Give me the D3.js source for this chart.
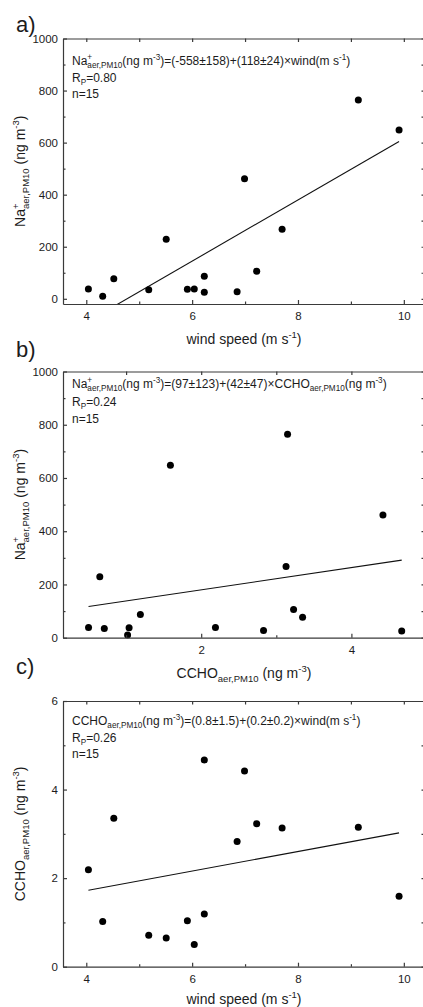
<!DOCTYPE html>
<html><head><meta charset="utf-8">
<script src="https://cdn.jsdelivr.net/npm/d3@7"></script>
<style>
body{margin:0;background:#fff}
svg{display:block}
text{font-family:"Liberation Sans",Arial,sans-serif;fill:#1c1c1c}
</style>
</head><body>
<script>
// ---- data (15 samples) ----
const windSpeed = [4.04,4.31,4.52,5.18,5.51,5.91,6.04,6.23,6.23,6.85,6.99,7.22,7.70,9.14,9.91];
const naAer     = [38,10,77,35,229,37,38,87,25,27,461,106,267,764,648];
const cchoAer   = [2.19,1.02,3.35,0.71,0.65,1.04,0.50,1.19,4.67,2.83,4.42,3.23,3.13,3.15,1.59];

// ---- tick labels ----
const naTicks = [0,200,400,600,800,1000];
const naMinor = [100,300,500,700,900];
const windTicks = [4,6,8,10];
const windMinor = [5,7,9];
const cchoXTicks = [2,4];
const cchoXMinor = [1,3];
const cchoYTicks = [0,2,4,6];
const cchoYMinor = [1,3,5];

// ---- texts ----
const panelLabels = ["a)","b)","c)"];
const rpValues = ["0.80","0.24","0.26"];
const nText = "n=15";
const naLabel = [["Na"],["+","stack","aer,PM10"]];
const cchoLabel = [["CCHO"],["aer,PM10","sub"]];
const eqA = [...naLabel,["(ng m"],["-3","sup"],[")=(-558±158)+(118±24)×wind(m s"],["-1","sup"],[")"]];
const eqB = [...naLabel,["(ng m"],["-3","sup"],[")=(97±123)+(42±47)×CCHO"],["aer,PM10","sub"],["(ng m"],["-3","sup"],[")"]];
const eqC = [...cchoLabel,["(ng m"],["-3","sup"],[")=(0.8±1.5)+(0.2±0.2)×wind(m s"],["-1","sup"],[")"]];
const windTitle = [["wind speed (m s"],["-1","sup"],[")"]];
const naTitle = [...naLabel,[" (ng m"],["-3","sup"],[")"]];
const cchoTitle = [...cchoLabel,[" (ng m"],["-3","sup"],[")"]];

// ---- layout ----
const W = 423, H = 1007, L = 63, R = 425;
const panels = [
  {xv: windSpeed, yv: naAer, xDom:[3.56,10.4], yDom:[-20,1000], top:38.5, bottom:304,
   xt: windTicks, xm: windMinor, yt: naTicks, ym: naMinor, eq: eqA, xTitle: windTitle, yTitle: naTitle,
   labelY:32, xTitleY:344, annoY:[65,82,98]},
  {xv: cchoAer, yv: naAer, xDom:[0.16,4.98], yDom:[0,1000], top:371.5, bottom:637.7,
   xt: cchoXTicks, xm: cchoXMinor, yt: naTicks, ym: naMinor, eq: eqB, xTitle: cchoTitle, yTitle: naTitle,
   labelY:357, xTitleY:678, annoY:[388,406,423]},
  {xv: windSpeed, yv: cchoAer, xDom:[3.56,10.4], yDom:[0,6], top:701, bottom:966.7,
   xt: windTicks, xm: windMinor, yt: cchoYTicks, ym: cchoYMinor, eq: eqC, xTitle: windTitle, yTitle: cchoTitle,
   labelY:674, xTitleY:1004, annoY:[725,742,758]}
];

const svg = d3.select("body").append("svg").attr("width",W).attr("height",H);
svg.append("rect").attr("width",W).attr("height",H).attr("fill","#fff");

function rich(textSel, parts, fs){
  let shift = 0;
  parts.forEach(p => {
    const [t, mode, sub2] = p;
    if (!mode) {
      textSel.append("tspan").attr("dy", -shift).attr("font-size", fs).text(t);
      shift = 0;
    } else if (mode === "sup") {
      const s = -0.42*fs;
      textSel.append("tspan").attr("dy", s - shift).attr("font-size", fs*0.68).text(t);
      shift = s;
    } else if (mode === "sub") {
      const s = 0.26*fs;
      textSel.append("tspan").attr("dy", s - shift).attr("font-size", fs*0.68).text(t);
      shift = s;
    } else if (mode === "stack") {
      const s1 = -0.42*fs;
      const ts = textSel.append("tspan").attr("dy", s1 - shift).attr("font-size", fs*0.68).text(t);
      const w = ts.node().getComputedTextLength();
      const s2 = 0.26*fs;
      textSel.append("tspan").attr("dy", s2 - s1).attr("dx", -w).attr("font-size", fs*0.68).text(sub2);
      shift = s2;
    }
  });
}

function regression(xs, ys){
  const mx = d3.mean(xs), my = d3.mean(ys);
  let sxy = 0, sxx = 0;
  xs.forEach((x,i)=>{ sxy += (x-mx)*(ys[i]-my); sxx += (x-mx)*(x-mx); });
  const b = sxy/sxx;
  return {a: my - b*mx, b};
}

panels.forEach((p, pi) => {
  const x = d3.scaleLinear().domain(p.xDom).range([L, R]);
  const y = d3.scaleLinear().domain(p.yDom).range([p.bottom, p.top]);
  const g = svg.append("g");
  const axisCol = "#3a3a3a";

  const clipId = "clip"+pi;
  svg.append("clipPath").attr("id", clipId).append("rect")
    .attr("x", L).attr("y", p.top).attr("width", R-L).attr("height", p.bottom-p.top);

  // regression line
  const fit = regression(p.xv, p.yv);
  const xr = d3.extent(p.xv);
  g.append("line").attr("clip-path", `url(#${clipId})`)
    .attr("x1", x(xr[0])).attr("y1", y(fit.a + fit.b*xr[0]))
    .attr("x2", x(xr[1])).attr("y2", y(fit.a + fit.b*xr[1]))
    .attr("stroke", "#111").attr("stroke-width", 1.1);

  // points
  g.selectAll("circle").data(p.xv.map((v,i)=>[v, p.yv[i]])).join("circle")
    .attr("cx", d=>x(d[0])).attr("cy", d=>y(d[1])).attr("r", 3.5).attr("fill","#000");

  // axes
  const style = a => { a.selectAll("path,line").attr("stroke", axisCol).attr("stroke-width", 1.2);
                       a.selectAll("text").attr("fill","#1c1c1c").attr("font-size", 11.5)
                        .attr("font-family",'"Liberation Sans",Arial,sans-serif'); };
  const bx = g.append("g").attr("transform",`translate(0,${p.bottom})`)
    .call(d3.axisBottom(x).tickValues(p.xt).tickSizeInner(-4).tickSizeOuter(0).tickPadding(8).tickFormat(d3.format("d")));
  style(bx);
  const bxm = g.append("g").attr("transform",`translate(0,${p.bottom})`)
    .call(d3.axisBottom(x).tickValues(p.xm).tickSizeInner(-2.5).tickSizeOuter(0).tickFormat(""));
  style(bxm); bxm.select(".domain").remove();
  const tx = g.append("g").attr("transform",`translate(0,${p.top})`)
    .call(d3.axisTop(x).tickValues(p.xt.concat(p.xm)).tickSizeInner(-3.5).tickSizeOuter(0).tickFormat(""));
  style(tx);
  const ly = g.append("g").attr("transform",`translate(${L},0)`)
    .call(d3.axisLeft(y).tickValues(p.yt).tickSizeInner(-4).tickSizeOuter(0).tickPadding(5).tickFormat(d3.format("d")));
  style(ly);
  const lym = g.append("g").attr("transform",`translate(${L},0)`)
    .call(d3.axisLeft(y).tickValues(p.ym).tickSizeInner(-2.5).tickSizeOuter(0).tickFormat(""));
  style(lym); lym.select(".domain").remove();
  const ry = g.append("g").attr("transform",`translate(${R},0)`)
    .call(d3.axisRight(y).tickValues(p.yt.concat(p.ym)).tickSizeInner(-3.5).tickSizeOuter(0).tickFormat(""));
  style(ry);

  // panel label
  svg.append("text").attr("x", 16).attr("y", p.labelY).attr("font-size", 22).text(panelLabels[pi]);

  // x title
  const xt = svg.append("text").attr("x", 244).attr("y", p.xTitleY).attr("text-anchor","middle");
  rich(xt, p.xTitle, 14);

  // y title
  const yt = svg.append("text").attr("text-anchor","middle")
    .attr("transform", `translate(25,${(p.top+p.bottom)/2}) rotate(-90)`);
  rich(yt, p.yTitle, 14);

  // annotation
  const a1 = svg.append("text").attr("x", 72).attr("y", p.annoY[0]);
  rich(a1, p.eq, 12);
  const a2 = svg.append("text").attr("x", 72).attr("y", p.annoY[1]);
  rich(a2, [["R"],["P","sub"],["="+rpValues[pi]]], 12);
  svg.append("text").attr("x", 72).attr("y", p.annoY[2]).attr("font-size", 12).text(nText);
});
</script>
</body></html>
